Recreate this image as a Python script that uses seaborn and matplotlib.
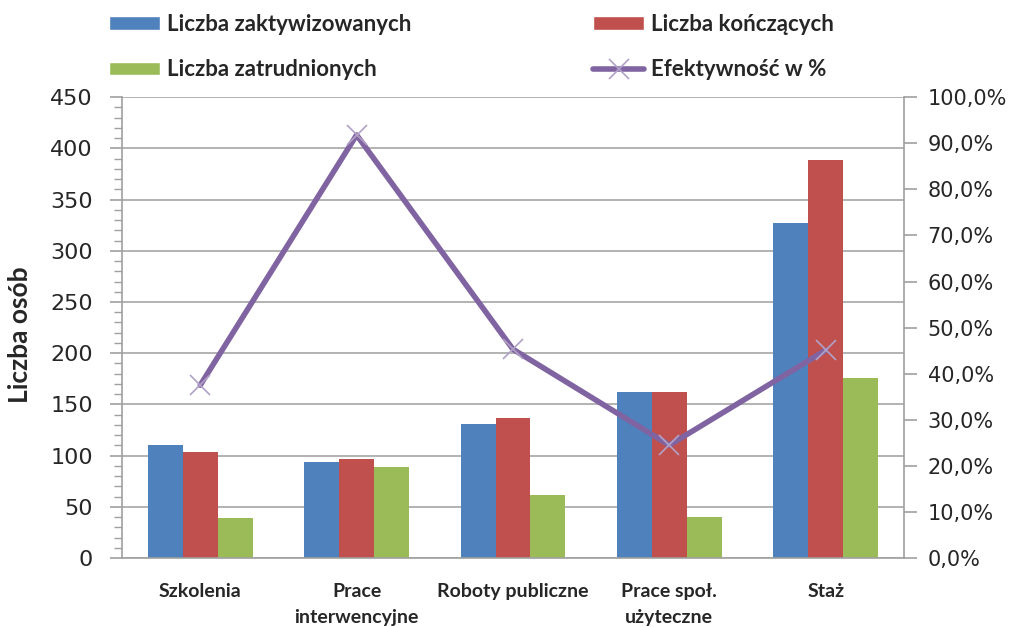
import pandas as pd
import seaborn as sns
import matplotlib.pyplot as plt
from matplotlib.patches import Patch
from matplotlib.lines import Line2D
from matplotlib.ticker import MultipleLocator, FuncFormatter

categories = ['Szkolenia', 'Prace\ninterwencyjne', 'Roboty publiczne',
              'Prace społ.\nużyteczne', 'Staż']
zaktywizowanych = [110, 94, 131, 162, 327]
konczacych = [104, 97, 137, 162, 389]
zatrudnionych = [39, 89, 62, 40, 176]
efektywnosc = [37.5, 91.8, 45.3, 24.5, 45.1]

series_names = ['Liczba zaktywizowanych', 'Liczba kończących', 'Liczba zatrudnionych']
line_name = 'Efektywność w %'
colors = ['#4F81BD', '#C0504D', '#9BBB59']
purple = '#8064A2'

df = pd.DataFrame({
    'kategoria': categories * 3,
    'seria': [series_names[0]] * 5 + [series_names[1]] * 5 + [series_names[2]] * 5,
    'osoby': zaktywizowanych + konczacych + zatrudnionych,
})
df_line = pd.DataFrame({'kategoria': categories, 'efekt': efektywnosc})

sns.set_style('white')
plt.rcParams['font.family'] = ['DejaVu Sans']
bold_font = ['Lato', 'DejaVu Sans']

fig = plt.figure(figsize=(10.10, 6.27), dpi=100)
ax = fig.add_axes([0.1208, 0.110, 0.7742, 0.735])

sns.barplot(data=df, x='kategoria', y='osoby', hue='seria', palette=colors,
            width=0.67, gap=0, linewidth=0, saturation=1, legend=False, ax=ax, zorder=2)
ax.set_ylim(0, 450)
ax.set_xlim(-0.5, 4.5)
ax.yaxis.set_major_locator(MultipleLocator(50))
ax.yaxis.set_minor_locator(MultipleLocator(10))
ax.grid(axis='y', color='#A6A6A6', linewidth=1.2, zorder=0)
ax.set_axisbelow(True)
for s in ['top', 'right']:
    ax.spines[s].set_visible(False)
for s in ['left', 'bottom']:
    ax.spines[s].set_color('#A0A0A0')
    ax.spines[s].set_linewidth(1.2)
ax.tick_params(axis='y', which='major', direction='out', length=9, width=1.2,
               color='#A0A0A0', labelsize=16, pad=12, left=True)
ax.tick_params(axis='y', which='minor', direction='out', length=6, width=1,
               color='#A0A0A0', left=True)
ax.tick_params(axis='x', length=0, pad=18)
ax.set_xlabel('')
ax.set_ylabel('Liczba osób', fontsize=19, fontweight='bold', family=bold_font, labelpad=9)
ax.yaxis.set_label_coords(-0.115, 0.485)
for lab in ax.get_xticklabels():
    lab.set_fontweight('bold')
    lab.set_family(bold_font)
    lab.set_fontsize(14)
    lab.set_linespacing(1.65)
    lab.set_verticalalignment('top')

ax2 = ax.twinx()
sns.lineplot(data=df_line, x='kategoria', y='efekt', color=purple, linewidth=4,
             marker='x', markersize=14, markeredgewidth=1.2, markeredgecolor='#B2A1C7',
             ax=ax2, zorder=3)
ax2.set_ylim(0, 100)
ax2.set_xlim(-0.5, 4.5)
ax2.yaxis.set_major_locator(MultipleLocator(10))
ax2.yaxis.set_major_formatter(FuncFormatter(lambda v, p: f'{v:.1f}%'.replace('.', ',')))
ax2.set_ylabel('')
for s in ['top', 'left', 'bottom']:
    ax2.spines[s].set_visible(False)
ax2.spines['right'].set_color('#A0A0A0')
ax2.spines['right'].set_linewidth(1.2)
ax2.tick_params(axis='y', direction='out', length=9, width=1.2, color='#A0A0A0',
                labelsize=15, pad=8, right=True)

# legend, two columns placed separately
h1 = [Patch(facecolor=colors[0]), Patch(facecolor=colors[2])]
h2 = [Patch(facecolor=colors[1]),
      Line2D([], [], color=purple, linewidth=4, marker='x', markersize=14,
             markeredgewidth=1.2, markeredgecolor='#B2A1C7')]
leg_kw = dict(frameon=False, handlelength=2.3, handleheight=0.55, handletextpad=0.3,
              labelspacing=1.1, borderaxespad=0, borderpad=0,
              prop={'family': bold_font, 'weight': 'bold', 'size': 16})
fig.legend(h1, [series_names[0], series_names[2]], loc='upper left',
           bbox_to_anchor=(109 / 1010, 1 - 14 / 627), **leg_kw)
fig.legend(h2, [series_names[1], line_name], loc='upper left',
           bbox_to_anchor=(593 / 1010, 1 - 14 / 627), **leg_kw)

fig.savefig('out.png', dpi=100)
